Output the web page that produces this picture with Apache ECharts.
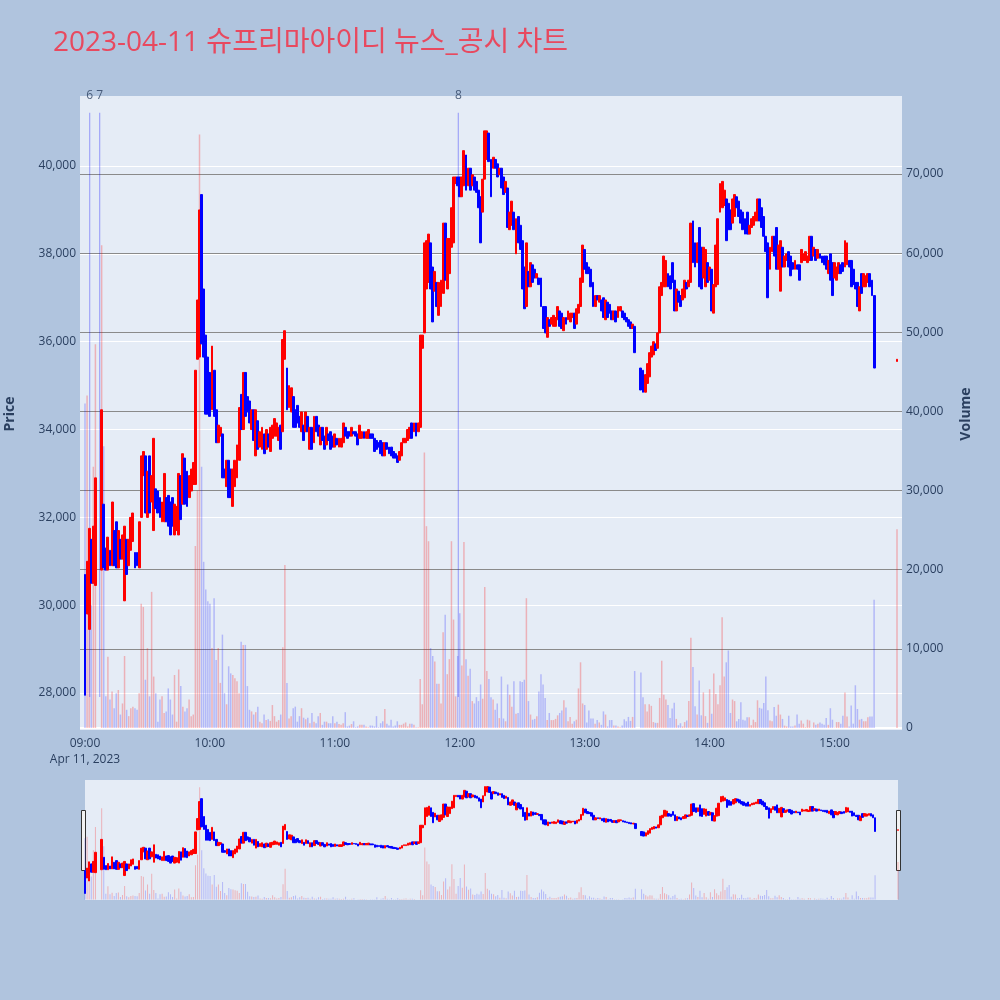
<!DOCTYPE html>
<html><head><meta charset="utf-8">
<script src="https://cdn.jsdelivr.net/npm/echarts@6/dist/echarts.min.js"></script>
<style>html,body{margin:0;padding:0;background:#b0c4de}#c{width:1000px;height:1000px}</style>
</head><body><div id="c"></div>
<script>
// minute index from 09:00 (0 = 09:00). null = no trade (VI halt)
const opens = [
30700,29800,29450,31500,30500,30450,null,null,30800,32300,
31300,30800,31250,30900,31700,31900,30850,31500,31050,30100,
31500,30900,31250,31450,31200,31200,30850,32000,32950,33400,
32000,33400,32350,31700,32650,32600,32450,31900,31900,32450,
32500,32350,32450,31600,31700,31600,32950,32300,33350,33050,
32450,32600,32750,32750,35600,35650,39350,37200,36150,35650,
35300,34450,35350,34450,33700,33850,33900,33100,32700,33300,
33100,32250,32700,32900,33300,34800,34000,35300,34750,34650,
34000,34450,33400,34200,33600,33550,33900,33550,33900,33500,
33800,33850,33850,33750,34100,33950,35600,35400,34500,34400,
34750,34450,34550,34300,33950,34100,33950,34300,33550,34050,
33700,34300,34100,33650,34050,33850,33650,33900,33950,33850,
33600,33800,33600,33600,33700,34050,33950,33950,33850,33950,
33950,33900,33800,33800,33950,33800,33800,33900,33900,33800,
33750,33700,33750,33700,33400,33700,33600,33600,33500,33450,
33400,33300,33400,33700,33700,33750,33800,34150,33950,34150,
33950,34050,35850,36200,37200,37350,38250,37700,37150,37350,
36600,36800,37100,38700,37200,37550,38150,38250,39600,39750,
39750,39300,39550,40250,39550,39950,39550,39750,39650,39450,
39300,38950,39700,40150,40750,40150,39950,40150,40050,39800,
39950,39750,39400,39500,38550,38650,38950,38000,38850,38650,
38300,37700,36800,37600,37250,37750,37650,37450,37450,37450,
36800,36800,36100,36500,36400,36350,36350,36500,36700,36650,
36250,36550,36500,36450,36550,36650,36400,36650,36800,37350,
38100,37800,37700,37650,37350,36800,37050,36900,36950,37000,
36500,36900,36850,36700,36500,36700,36550,36700,36700,36650,
36550,36500,36450,36300,36350,null,null,35400,35350,34850,
35050,35200,35650,35700,35950,35850,36200,37050,37250,37250,
37550,37500,37800,37400,36700,37150,37050,36950,37000,37350,
37250,37350,38750,38250,37800,38600,38150,37450,37250,37800,
37400,37650,36650,37250,37300,38950,39050,39100,39250,39150,
39000,38700,38850,39300,39200,39000,38950,38800,38950,38450,
38600,38650,38750,38750,39250,39050,38850,38400,38250,37650,
38050,38400,38600,37650,37150,38150,37700,37850,38050,37950,
37800,37650,37750,37750,37800,37850,37850,37800,37850,38400,
37950,38100,37900,38000,37950,37950,37950,37550,38000,37800,
37450,37400,37550,37750,37800,37700,37750,37850,37850,37650,
37350,37350,36700,37550,37250,37250,37350,37550,37400,37050];
const closes = [
27950,31000,31750,30500,31800,32900,null,null,34450,30850,
30800,31550,30900,32350,30900,30850,31700,31050,31600,31800,
30700,31500,32000,32100,30850,30900,31900,33400,33500,32100,
33050,32100,32950,33800,32200,32100,32000,32350,33000,31900,
31800,31600,31800,32300,32250,33000,31950,33450,32300,32250,
32950,33100,33250,35350,36950,39000,35950,35650,34350,34350,
34300,35900,34300,33700,34100,34050,32900,32900,33300,32450,
32450,33100,33300,33650,34500,34000,35300,34300,34400,34150,
34450,33750,34450,33550,33950,34050,33450,34000,33600,34050,
34100,34250,34150,34050,33550,36050,36250,34450,35000,34950,
34050,34050,34150,34050,34400,33750,34400,33950,34050,33550,
34300,33950,33850,34050,33750,33550,34050,33750,33550,33600,
33900,33650,33800,33800,34150,33850,33800,33850,34050,33900,
33850,33650,34100,33950,33800,33950,34000,33800,33800,33500,
33550,33600,33450,33400,33700,33550,33450,33400,33350,33350,
33250,33500,33700,33800,33800,34000,34050,33800,34150,33850,
34150,36150,36150,38250,38300,38450,37200,36450,37600,36800,
37350,37400,38700,37400,38350,38350,39050,39750,39750,39550,
39300,39750,40350,39450,39950,39450,39800,39450,39400,39050,
38250,39700,40800,40800,40100,39300,40200,39950,39750,39950,
39500,39350,39650,38600,38950,39200,38550,38800,38250,38100,
37200,36750,38250,37250,37800,37350,37450,37550,37300,36800,
36300,36200,36550,36350,36550,36600,36550,36800,36350,36300,
36550,36400,36700,36650,36650,36300,36750,36850,37450,38200,
37650,37550,37550,37250,36800,37050,36950,37050,36700,36550,
36950,36550,36650,36500,36700,36450,36800,36800,36550,36500,
36450,36350,36300,36400,35750,null,null,34900,34850,35250,
35500,35750,35900,36000,35800,36200,37250,37350,37950,37850,
37250,37200,37350,36700,37200,36900,36800,37200,37400,37200,
37400,38700,37800,37700,38250,37250,37200,38150,38100,37350,
37700,36700,37300,38200,38800,39600,39650,39450,38300,38550,
38550,39250,39350,39050,38850,38700,38550,38450,38450,38650,
38800,38850,38950,39250,38750,38600,38400,38050,37000,38150,
38400,37950,37650,38200,38300,37700,37950,38000,37700,37500,
37650,37850,37650,37400,38100,38000,38050,37950,38400,37850,
38150,37850,38100,37900,37800,37750,37650,37850,37400,37050,
37800,37700,37800,37550,37600,38300,38250,37700,37250,37300,
37200,36800,37250,37100,37550,37500,37550,37250,37050,35400];
const volumes = [
41000,42000,15000,15500,33000,48500,null,null,61000,35600,
4000,9000,3600,4600,2500,4400,4800,1700,3100,9100,
2300,1500,2500,2700,2500,2300,4400,15700,15300,6100,
10100,4000,17200,6500,4400,800,3600,4000,1900,2100,
5000,3600,1700,6700,800,7400,5300,2700,2100,2500,
3600,1500,1700,23000,30000,75000,33000,21000,17500,16000,
15700,10100,16400,8600,10100,5700,11800,4400,3000,7800,
6900,6700,6300,5900,4400,10900,10500,10500,5300,2300,
2100,1700,2000,2700,800,600,1700,1000,1100,900,
2900,1500,800,1000,1700,10200,20600,5700,1200,1500,
2500,2700,800,1500,2500,1300,1100,1300,600,1900,
800,600,1500,1900,400,800,800,600,600,1500,
600,800,500,400,600,2000,200,300,500,850,
100,200,400,400,400,200,100,300,300,200,
1500,100,600,850,2400,550,300,1050,200,300,
850,400,400,550,700,200,550,550,400,100,
100,6200,3000,34800,25500,23600,10100,9100,8400,5600,
5600,3100,12100,14300,6800,8700,23600,13700,4000,9100,
14500,7900,23500,8700,6600,7500,3400,3100,3900,3400,
5500,3700,17800,7200,6200,3900,3600,2300,3100,1250,
6500,1200,850,5500,4200,2700,5900,1800,1900,5900,
5800,6100,16400,3400,1700,1050,1150,1500,4600,6800,
5500,3800,1000,1900,1000,1000,1150,1600,1900,2200,
3500,2600,850,1400,550,850,1050,5000,8300,3100,
2900,700,2200,1200,1200,550,1000,700,400,2100,
1700,200,1000,1000,300,300,200,100,300,1100,
850,1400,900,1400,7200,null,null,7000,3900,3000,
2100,3000,2800,750,650,650,3800,8500,4200,3600,
2900,1250,2450,3200,1150,350,600,200,750,950,
3400,11400,7700,2750,1700,6000,1600,4500,1500,650,
4900,1800,6900,4300,3000,5400,14000,6500,8300,9800,
1900,3600,3400,850,1150,3250,1050,950,1350,1350,
350,1050,750,3500,2550,2450,3150,6500,2250,950,
850,2650,1550,2950,1700,1150,300,200,1550,200,
200,300,1700,550,950,550,100,1050,950,50,
700,400,550,700,550,400,1250,400,2500,1050,
50,750,750,550,1550,4500,1450,200,2850,550,
5400,2400,1050,1150,850,850,1350,1450,1450,16200];
// closing single-price auction at 15:30
const auctionMinute = [390];
const auctionOpen = [35550];
const auctionClose = [35600];
const auctionVolume = [25100];
// news markers
const newsMinutes = [2.25, 7.05, 179.3];
const newsLabels = ['6', '7', '8'];
const newsLow = 27910, newsHigh = 41210;
// axes
const timeTicks = [0, 60, 120, 180, 240, 300, 360];
const priceTicks = [28000, 30000, 32000, 34000, 36000, 38000, 40000];
const volumeTicks = [0, 10000, 20000, 30000, 40000, 50000, 60000, 70000];
const priceRange = [27159, 41594];
const volumeRange = [-253, 79856];
const timeRange = [-2.4, 392.4];

const RED = '#ff0000', BLUE = '#0000ff';
const RED_V = 'rgba(255,0,0,0.25)', BLUE_V = 'rgba(0,0,255,0.22)';
const TXT = '#2a3f5f';

const candles = [], vols = [];
function addBar(m, o, c, v) {
  candles.push([m, o, c, Math.min(o, c), Math.max(o, c)]);
  vols.push({ value: [m, v], itemStyle: { color: c >= o ? RED_V : BLUE_V } });
}
opens.forEach((o, i) => { if (o == null) return; addBar(i, o, closes[i], volumes[i]); });
auctionMinute.forEach((m, i) => addBar(m, auctionOpen[i], auctionClose[i], auctionVolume[i]));

function hhmm(m) {
  const t = 540 + m;
  return String(Math.floor(t / 60)).padStart(2, '0') + ':' + String(t % 60).padStart(2, '0');
}

const chart = echarts.init(document.getElementById('c'), null, { renderer: 'canvas' });
const series = [];
series.push({
  type: 'bar', xAxisIndex: 0, yAxisIndex: 1, data: vols, barWidth: 1.5, z: 1, silent: true,
  markLine: { silent: true, symbol: 'none', z: 1, label: { show: false },
    data: [{ yAxis: 0, lineStyle: { color: '#ffffff', width: 2, type: 'solid' } }] }
});
series.push({
  type: 'candlestick', xAxisIndex: 0, yAxisIndex: 0, data: candles, encode: { x: 0, y: [1, 2, 3, 4] },
  barWidth: 2.4, z: 3, silent: true,
  itemStyle: { color: RED, color0: BLUE, borderColor: RED, borderColor0: BLUE, borderWidth: 1 }
});
newsMinutes.forEach((m) => {
  series.push({
    type: 'line', xAxisIndex: 0, yAxisIndex: 0, data: [[m, newsLow], [m, newsHigh]],
    symbol: 'none', silent: true, z: 2,
    lineStyle: { color: 'rgba(0,0,255,0.3)', width: 1.2 }
  });
});
series.push({
  type: 'scatter', xAxisIndex: 0, yAxisIndex: 0, symbolSize: 0, silent: true, z: 4,
  data: newsMinutes.map((m, i) => ({ value: [m, priceRange[1]], name: newsLabels[i] })),
  label: { show: true, position: 'inside', formatter: p => p.name, color: TXT, fontSize: 12, fontFamily: 'Open Sans' }
});
series.push({ type: 'bar', xAxisIndex: 1, yAxisIndex: 3, data: vols, barWidth: 1, z: 1, silent: true });
series.push({
  type: 'candlestick', xAxisIndex: 1, yAxisIndex: 2, data: candles, encode: { x: 0, y: [1, 2, 3, 4] },
  barWidth: 2, z: 3, silent: true,
  itemStyle: { color: RED, color0: BLUE, borderColor: RED, borderColor0: BLUE, borderWidth: 1 }
});

const option = {
  animation: false,
  backgroundColor: '#b0c4de',
  title: {
    text: '2023-04-11 슈프리마아이디 뉴스_공시 차트', left: 48, top: 24,
    textStyle: { color: '#e8495f', fontSize: 28, fontWeight: 'normal', fontFamily: '"Open Sans","Noto Sans CJK KR"' }
  },
  grid: [
    { left: 80, top: 96, width: 822, height: 634, show: true, backgroundColor: '#e5ecf6', borderWidth: 0 },
    { left: 85, top: 780, width: 813, height: 120, show: true, backgroundColor: '#e5ecf6', borderWidth: 0 }
  ],
  xAxis: [
    { type: 'value', gridIndex: 0, min: timeRange[0], max: timeRange[1],
      axisLine: { show: false }, axisTick: { show: false }, splitLine: { show: false },
      axisLabel: { customValues: timeTicks, color: TXT, fontSize: 12, fontFamily: 'Open Sans', margin: 6, lineHeight: 16,
        formatter: v => hhmm(v) + (v === 0 ? '\nApr 11, 2023' : '') } },
    { type: 'value', gridIndex: 1, min: 0, max: 390, show: false }
  ],
  yAxis: [
    { type: 'value', gridIndex: 0, position: 'left', min: priceRange[0], max: priceRange[1], splitNumber: 7,
      axisLine: { show: false }, axisTick: { show: false },
      splitLine: { show: true, showMinLine: false, showMaxLine: false, lineStyle: { color: '#ffffff', width: 1 } },
      axisLabel: { customValues: priceTicks, color: TXT, fontSize: 12, fontFamily: 'Open Sans', margin: 4,
        formatter: v => v.toLocaleString('en-US') } },
    { type: 'value', gridIndex: 0, position: 'right', min: volumeRange[0], max: volumeRange[1], splitNumber: 8,
      axisLine: { show: false }, axisTick: { show: false },
      splitLine: { show: true, showMinLine: false, showMaxLine: false, lineStyle: { color: '#8a8a8a', width: 1 } },
      axisLabel: { customValues: volumeTicks, color: TXT, fontSize: 12, fontFamily: 'Open Sans', margin: 4,
        formatter: v => v.toLocaleString('en-US') } },
    { type: 'value', gridIndex: 1, min: priceRange[0], max: priceRange[1], show: false, splitLine: { show: false } },
    { type: 'value', gridIndex: 1, min: volumeRange[0], max: volumeRange[1], show: false, splitLine: { show: false } }
  ],
  graphic: [
    { type: 'text', x: 10, y: 414, rotation: Math.PI / 2,
      style: { text: 'Price', fill: TXT, font: 'bold 14px "Open Sans"', align: 'center', verticalAlign: 'middle' } },
    { type: 'text', x: 966, y: 414, rotation: Math.PI / 2,
      style: { text: 'Volume', fill: TXT, font: 'bold 14px "Open Sans"', align: 'center', verticalAlign: 'middle' } },
    { type: 'rect', shape: { x: 81.5, y: 810.5, width: 4, height: 60 }, style: { fill: '#f2f2f2', stroke: '#333', lineWidth: 1 } },
    { type: 'rect', shape: { x: 896.5, y: 810.5, width: 4, height: 60 }, style: { fill: '#f2f2f2', stroke: '#333', lineWidth: 1 } }
  ],
  series: series
};
chart.setOption(option);
</script>
</body></html>
